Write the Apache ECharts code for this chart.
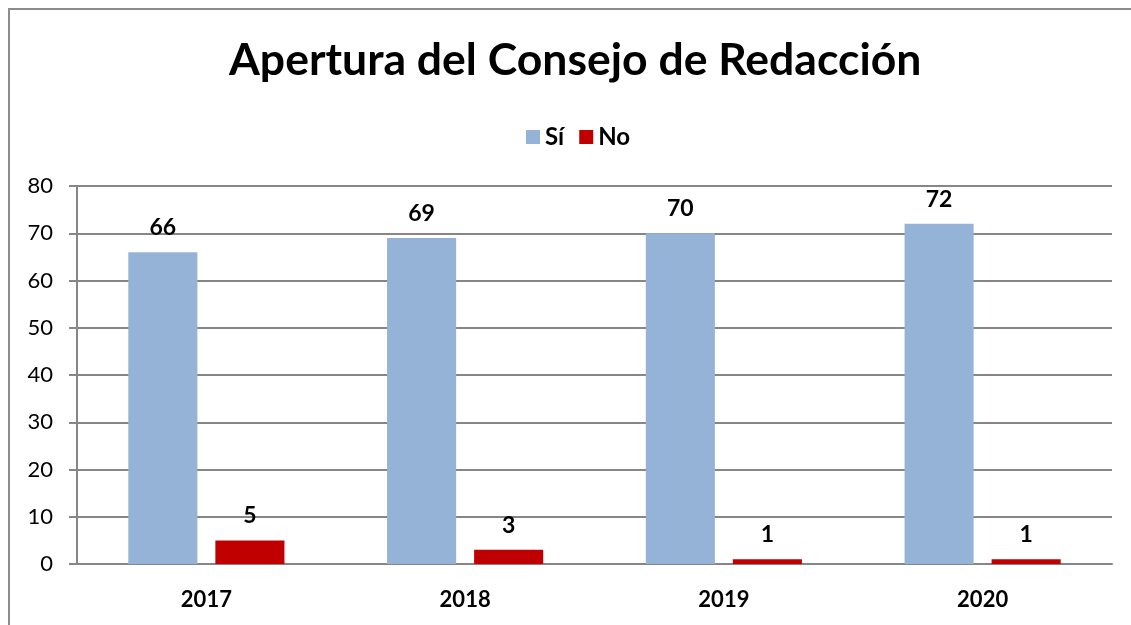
<!DOCTYPE html>
<html>
<head>
<meta charset="utf-8">
<script src="https://cdn.jsdelivr.net/npm/echarts@6/dist/echarts.min.js"></script>
<title>Apertura del Consejo de Redacción</title>
<style>
  * { margin: 0; padding: 0; box-sizing: border-box; }
  html, body { background: #fff; width: 1131px; height: 625px; overflow: hidden; }
  #chart { position: absolute; left: 0; top: 0; width: 1131px; height: 625px; }
</style>
</head>
<body>
<div id="chart"></div>
<script type="text/javascript">
// datos
var years = ['2017', '2018', '2019', '2020'];
var si = [66, 69, 70, 72];
var no = [5, 3, 1, 1];
var seriesNames = ['Sí', 'No'];

var fontFam = 'Lato, "Open Sans", sans-serif';

var labelStyle = {
  show: true,
  position: 'top',
  distance: 13,
  color: '#000',
  fontWeight: 'bold',
  fontSize: 23,
  fontFamily: fontFam
};

var option = {
  backgroundColor: '#fff',
  animation: false,
  title: {
    text: 'Apertura del Consejo de Redacción',
    left: 224,
    top: 33,
    textStyle: { fontSize: 44.5, fontWeight: 'bold', color: '#000', fontFamily: fontFam }
  },
  legend: {
    data: seriesNames,
    top: 120,
    left: 521,
    itemWidth: 14,
    itemHeight: 14,
    itemGap: 15,
    icon: 'rect',
    textStyle: { fontSize: 24, fontWeight: 'bold', color: '#000', fontFamily: fontFam }
  },
  grid: { left: 77, right: 19, top: 186, bottom: 61, containLabel: false },
  xAxis: {
    type: 'category',
    data: years,
    axisLine: { show: true, lineStyle: { color: '#868686', width: 2 } },
    axisTick: { show: false },
    axisLabel: { color: '#000', fontWeight: 'bold', fontSize: 22, fontFamily: fontFam, margin: 25 }
  },
  yAxis: {
    type: 'value',
    min: 0,
    max: 80,
    interval: 10,
    axisLine: { show: true, lineStyle: { color: '#868686', width: 2 } },
    axisTick: { show: true, length: 8, lineStyle: { color: '#868686', width: 2 } },
    axisLabel: { color: '#000', fontSize: 22, fontFamily: fontFam, margin: 24 },
    splitLine: { show: true, lineStyle: { color: '#868686', width: 2 } }
  },
  // marco del gráfico (solo arriba e izquierda visibles)
  graphic: [
    {
      type: 'polyline',
      silent: true,
      shape: { points: [[9, 640], [9, 9], [1140, 9]] },
      style: { stroke: '#8c8c8c', lineWidth: 2, fill: null }
    }
  ],
  series: [
    {
      name: seriesNames[0],
      type: 'bar',
      data: si,
      barWidth: '26.7%',
      barGap: '26%',
      itemStyle: { color: '#95B3D7' },
      label: labelStyle
    },
    {
      name: seriesNames[1],
      type: 'bar',
      data: no,
      barWidth: '26.7%',
      itemStyle: { color: '#C00000' },
      label: labelStyle
    }
  ]
};

var chart = echarts.init(document.getElementById('chart'));
chart.setOption(option);
</script>
</body>
</html>
